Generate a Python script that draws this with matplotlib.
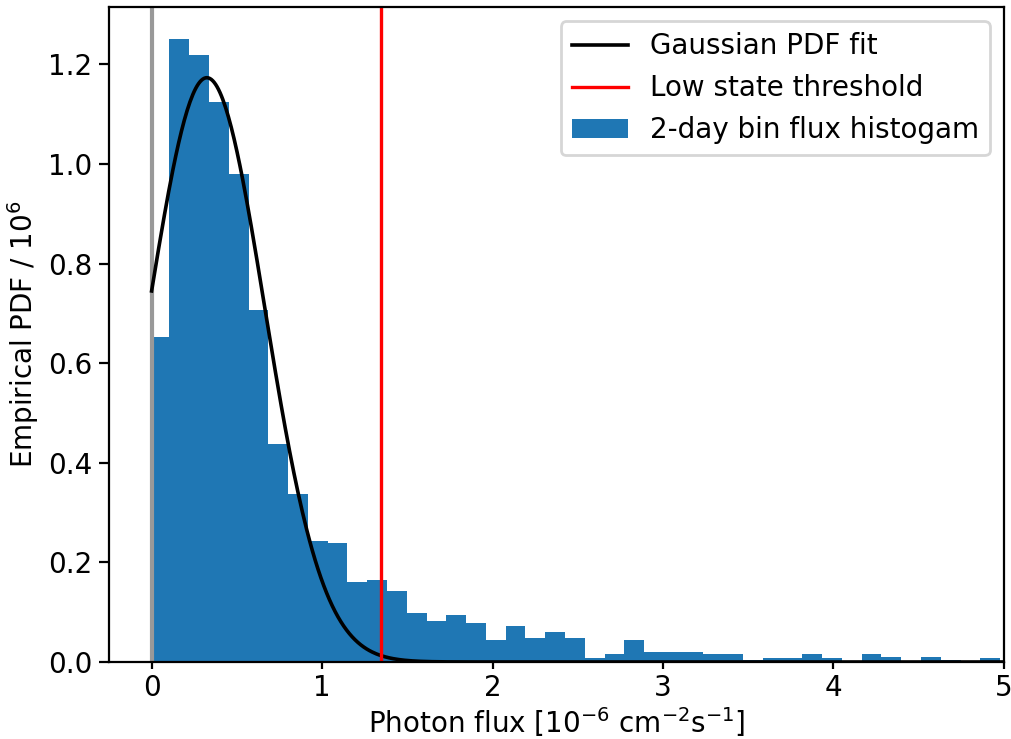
import matplotlib
matplotlib.use("Agg")
import matplotlib.pyplot as plt
import numpy as np

# histogram of 2-day binned photon flux (density, scaled by 1e6)
bin_start = -0.0117
bin_width = 0.11603
pdf_values = [0.653, 1.252, 1.219, 1.124, 0.980, 0.706, 0.4375, 0.338, 0.243, 0.2385,
              0.160, 0.164, 0.143, 0.0985, 0.0817, 0.0938, 0.0777, 0.0442, 0.0724, 0.0489,
              0.061, 0.0489, 0.0074, 0.0154, 0.0442, 0.0195, 0.0195, 0.0195, 0.0154, 0.0154,
              0.0037, 0.0074, 0.0074, 0.0154, 0.0074, 0.0, 0.0154, 0.011, 0.0, 0.011,
              0.0037, 0.0, 0.0074]

# gaussian fit parameters and low state threshold
gauss_mu = 0.324
gauss_sigma = 0.34
low_threshold = 1.345

edges = bin_start + bin_width * np.arange(len(pdf_values) + 1)

fig = plt.figure(figsize=(5.06, 3.695), dpi=200)
ax = fig.add_axes([0.1077, 0.1042, 0.8843, 0.8858])

ax.hist(edges[:-1], bins=edges, weights=pdf_values, color="C0",
        label="2-day bin flux histogam")
ax.axvline(0, color="#999999", lw=1.5)

x = np.linspace(0, 5, 600)
gauss = np.exp(-(x - gauss_mu) ** 2 / (2 * gauss_sigma ** 2)) / (gauss_sigma * np.sqrt(2 * np.pi))
ax.plot(x, gauss, color="black", lw=1.3, label="Gaussian PDF fit")
ax.axvline(low_threshold, color="red", lw=1.2, label="Low state threshold")

ax.set_xlim(-0.25, 5)
ax.tick_params(axis="x", length=2.5, pad=1.8)
ax.tick_params(axis="y", pad=2.5)
ax.set_xlabel(r"Photon flux [10$^{-6}$ cm$^{-2}$s$^{-1}$]", labelpad=1)
ax.set_ylabel(r"Empirical PDF / 10$^6$", labelpad=2.5)

handles, labels = ax.get_legend_handles_labels()
order = [1, 2, 0]
ax.legend([handles[i] for i in order], [labels[i] for i in order], loc="upper right")

fig.savefig("out.png", dpi=200)
